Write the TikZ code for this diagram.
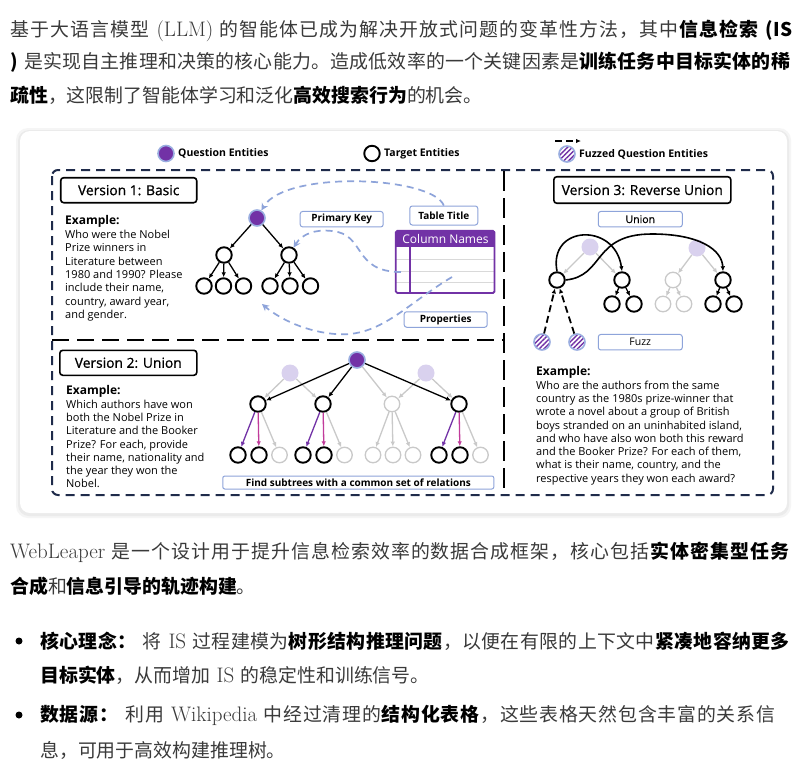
\documentclass[tikz,border=0pt]{standalone}
\usepackage{fontspec}
\newfontfamily\cjk[Scale=0.9]{Noto Sans CJK SC}
\newfontfamily\dsans{Open Sans}
\newfontfamily\dsemi[FakeBold=0.8]{Open Sans}
\usetikzlibrary{arrows.meta,patterns.meta}
\definecolor{framec}{HTML}{1F2B4A}
\definecolor{qpurple}{HTML}{7232A6}
\definecolor{ring}{HTML}{9AAEE0}
\definecolor{linkc}{HTML}{8EA4DA}
\definecolor{ghost}{HTML}{D9D1EE}
\definecolor{rose}{HTML}{C13B9B}
\definecolor{pale}{HTML}{C9C9C9}
\definecolor{bodyink}{HTML}{3A3A3A}
\def\spreadend{\spreadend}
\def\spreadchars#1{\spreadaux#1\spreadend}
\def\spreadaux#1{\ifx#1\spreadend\else#1\hskip0pt plus 1fil\expandafter\spreadaux\fi}
\newcommand{\zhr}[1]{{\cjk #1}}
\newcommand{\zhb}[1]{{\cjk\bfseries\color{black}#1}}
\newcommand{\zhj}[1]{{\cjk\spreadchars{#1}}}
\newcommand{\zhbj}[1]{{\cjk\bfseries\color{black}\spreadchars{#1}}}
\tikzset{
  para/.style={anchor=west,inner sep=0pt,text=bodyink,font=\fontsize{21}{25}\selectfont},
  dot/.style={circle,fill=black,minimum size=7pt,inner sep=0pt},
  ent/.style={circle,draw=black,line width=1.9pt,fill=white,minimum size=15.5pt,inner sep=0pt},
  gent/.style={ent,draw=pale,line width=1.3pt},
  qent/.style={circle,fill=qpurple,draw=ring,line width=1.6pt,minimum size=16pt,inner sep=0pt},
  fent/.style={circle,fill=ghost,minimum size=17pt,inner sep=0pt},
  zent/.style={circle,draw=ring,line width=1.6pt,minimum size=16pt,inner sep=0pt,
    preaction={fill=white},pattern={Lines[angle=45,distance=3.4pt,line width=1.4pt]},pattern color=qpurple},
  arr/.style={-{Latex[length=5pt,width=4.5pt]},line width=1.3pt},
  garr/.style={arr,draw=pale},
  link/.style={draw=linkc,line width=1.7pt,dash pattern=on 7pt off 5pt,-{Stealth[length=7pt,width=7pt]}},
  vbox/.style={draw=black,line width=1.6pt,rounded corners=3pt,fill=white,inner sep=0pt,
    minimum height=25pt,font=\dsemi\fontsize{13.8}{16}\selectfont},
  tag/.style={draw=linkc,line width=1pt,rounded corners=2.5pt,fill=white,inner sep=0pt,
    minimum height=15.5pt,font=\dsans\bfseries\fontsize{10}{12}\selectfont},
  example/.style={anchor=north west,align=left,inner sep=0pt,font=\dsans\fontsize{11}{13.3}\selectfont},
  legend/.style={anchor=west,inner sep=0pt,font=\dsans\bfseries\fontsize{10.5}{13}\selectfont}
}
\begin{document}
\begin{tikzpicture}[x=1pt,y=-1pt]
\path[use as bounding box,fill=white] (0,0) rectangle (803,763);

\node[para] (intro1) at (10,31) {\makebox[782pt][s]{\zhj{基于大语言模型} (LLM) \zhj{的智能体已成为解决开放式问题的变革性方法，其中}\zhbj{信息检索} \zhb{(IS}}};
\node[para] (intro2) at (10,62) {\makebox[780pt][s]{\zhb{)} \zhj{是实现自主推理和决策的核心能力。造成低效率的一个关键因素是}\zhbj{训练任务中目标实体的稀}\unskip}};
\node[para] (intro3) at (10,95) {\zhb{疏性}\zhr{，这限制了智能体学习和泛化}\zhb{高效搜索行为}\zhr{的机会。}};

\fill[black!4,rounded corners=12pt] (16,128) rectangle (791,518);
\fill[black!8,rounded corners=11pt] (18,130) rectangle (789,516);
\fill[white,rounded corners=10pt] (20,131) rectangle (787,513);

\node[qent] (lq) at (166,153.5) {};
\node[legend] (lqt) at (178,153.5) {Question Entities};
\node[ent] (lt) at (372,153.5) {};
\node[legend] (ltt) at (384,153.5) {Target Entities};
\node[zent] (lf) at (567,154) {};
\node[legend] (lft) at (579,154) {Fuzzed Question Entities};
\coordinate (la) at (555,141);
\coordinate (lb) at (581,141);
\draw[arr,line width=1.6pt,dash pattern=on 7pt off 4pt] (la) -- (lb);

\draw[framec,line width=2pt,dash pattern=on 9pt off 6pt,rounded corners=6pt] (52,170) rectangle (773,495);
\draw[line width=2.6pt,dash pattern=on 17pt off 8pt] (52,340) -- (503,340);
\draw[line width=2.8pt,dash pattern=on 20pt off 7pt] (504,171) -- (504,495);

\node[vbox,minimum width=136pt] (v1) at (128.7,190.2) {Version 1: Basic};
\node[example] (ex1) at (65,215.5) {{\bfseries\fontsize{12}{15}\selectfont Example:}\\[0.5pt]
  Who were the Nobel\\Prize winners in\\Literature between\\1980 and 1990? Please\\include their name,\\country, award year,\\and gender.};

\node[qent] (r1) at (257,218) {};
\node[ent] (a1) at (224,255) {};
\node[ent] (b1) at (289,255) {};
\foreach \x [count=\i] in {204,223.5,243.5} \node[ent] (a1\i) at (\x,286) {};
\foreach \x [count=\i] in {270,290,310.5} \node[ent] (b1\i) at (\x,286) {};
\draw[arr] (r1) -- (a1);
\draw[arr] (r1) -- (b1);
\foreach \i in {1,2,3} {
  \draw[arr] (a1) -- (a1\i);
  \draw[arr] (b1) -- (b1\i);
}

\node[tag,minimum width=83pt] (pkey) at (341.7,219.2) {Primary Key};
\node[tag,minimum width=68pt,minimum height=19pt] (ttitle) at (443.8,215.5) {Table Title};
\node[tag,minimum width=83pt] (props) at (445.7,319.5) {Properties};
\node[fill=qpurple,text=white,inner sep=0pt,minimum width=99pt,minimum height=16pt,
  font=\dsans\fontsize{12}{14}\selectfont] (cols) at (445.5,239) {Column Names};
\coordinate (tcorner) at (494.5,293);
\fill[white] (cols.south west) rectangle (tcorner);
\foreach \y in {259,271,282} \draw[black!15,line width=0.8pt] (396,\y) -- (494.5,\y);
\draw[qpurple,line width=1.5pt] (410,247) -- (410,293);
\draw[qpurple,line width=1.8pt,rounded corners=1.5pt] (cols.north west) rectangle (tcorner);

\coordinate (tin) at (401,272);
\coordinate (tout) at (452,277);
\coordinate (ptip) at (262,304);
\draw[link] (ttitle.north) .. controls (432,176) and (285,170) .. (r1);
\draw[link] (tin) .. controls (352,272) and (366,234) .. (332,231) .. controls (315,229) and (302,234) .. (b1);
\draw[link] (tout) .. controls (405,305) and (380,338) .. (335,334) .. controls (300,331) and (275,315) .. (ptip);

\node[vbox,minimum width=137pt] (v2) at (128.3,362.8) {Version 2: Union};
\node[example] (ex2) at (66,385) {{\bfseries\fontsize{12}{15}\selectfont Example:}\\[0.5pt]
  Which authors have won\\both the Nobel Prize in\\Literature and the Booker\\Prize? For each, provide\\their name, nationality and\\the year they won the\\Nobel.};

\node[fent] (fl) at (290,373) {};
\node[fent] (fr) at (426,373) {};
\node[qent] (r2) at (357,360) {};
\node[ent] (c1) at (258,404) {};
\node[ent] (c2) at (323,404) {};
\node[gent] (c3) at (392,404) {};
\node[ent] (c4) at (459,404) {};
\draw[garr] (fl) -- (c1);
\draw[garr] (fl) -- (c2);
\draw[garr] (fr) -- (c3);
\draw[garr] (fr) -- (c4);
\draw[garr] (r2) -- (c3);
\draw[arr] (r2) -- (c1);
\draw[arr] (r2) -- (c2);
\draw[arr] (r2) -- (c4);
\foreach \c/\x in {1/258,2/323,4/459} {
  \node[ent] (c\c1) at (\x-20,455) {};
  \node[ent] (c\c2) at (\x+1,455) {};
  \node[gent] (c\c3) at (\x+21.5,455) {};
  \draw[arr,qpurple] (c\c) -- (c\c1);
  \draw[arr,rose] (c\c) -- (c\c2);
  \draw[garr] (c\c) -- (c\c3);
}
\foreach \x [count=\i] in {373,393,413} {
  \node[gent] (c3\i) at (\x,455) {};
  \draw[garr] (c3) -- (c3\i);
}
\node[tag,minimum width=271pt,minimum height=13pt,rounded corners=2pt] (subtr) at (358.3,482.5) {Find subtrees with a common set of relations};

\node[vbox,minimum width=177pt,minimum height=26.5pt] (v3) at (642.3,190) {Version 3: Reverse Union};
\node[tag,minimum width=84pt,font=\dsemi\fontsize{10.5}{12}\selectfont] (union) at (640.3,219.2) {Union};
\node[tag,minimum width=84pt,font=\dsans\fontsize{10.5}{12}\selectfont] (fuzz) at (640.3,342.2) {Fuzz};

\node[fent] (fa) at (590,247) {};
\node[fent] (fb) at (697,248) {};
\node[ent] (d1) at (557,280) {};
\node[ent] (d2) at (622,280) {};
\node[gent] (d3) at (673,280) {};
\node[ent] (d4) at (723,280) {};
\node[ent] (d21) at (612,304) {};
\node[ent] (d22) at (634,304) {};
\node[gent] (d31) at (663,304) {};
\node[gent] (d32) at (684,304) {};
\node[ent] (d41) at (713,304) {};
\node[ent] (d42) at (734,304) {};
\draw[garr] (fa) -- (d1);
\draw[garr] (fa) -- (d2);
\draw[garr] (fb) -- (d3);
\draw[garr] (fb) -- (d4);
\foreach \i in {1,2} {
  \draw[arr] (d2) -- (d2\i);
  \draw[garr] (d3) -- (d3\i);
  \draw[arr] (d4) -- (d4\i);
}
\draw[arr,line width=1.6pt] (d1.north) .. controls (548,225) and (615,222) .. (d2.north);
\draw[arr,line width=1.6pt] (d1.east) .. controls (605,276) and (592,234) .. (652,234) .. controls (700,234) and (722,250) .. (d4.north);
\node[zent] (z1) at (542,342) {};
\node[zent] (z2) at (577,342) {};
\draw[arr,line width=1.8pt,dash pattern=on 7pt off 4pt] (z1) -- (d1);
\draw[arr,line width=1.8pt,dash pattern=on 7pt off 4pt] (z2) -- (d1);
\node[example] (ex3) at (536,366) {{\bfseries\fontsize{12}{15}\selectfont Example:}\\[0.5pt]
  Who are the authors from the same\\country as the 1980s prize-winner that\\wrote a novel about a group of British\\boys stranded on an uninhabited island,\\and who have also won both this reward\\and the Booker Prize? For each of them,\\what is their name, country, and the\\respective years they won each award?};

\node[para] (sum1) at (10,552) {\makebox[780pt][s]{WebLeaper \zhj{是一个设计用于提升信息检索效率的数据合成框架，核心包括}\zhbj{实体密集型任务}\unskip}};
\node[para] (sum2) at (10,586) {\zhb{合成}\zhr{和}\zhb{信息引导的轨迹构建}\zhr{。}};
\node[dot] (bul1) at (19,641) {};
\node[para] (pt1a) at (40,641) {\makebox[750pt][s]{\zhbj{核心理念：}\ \zhj{将} IS \zhj{过程建模为}\zhbj{树形结构推理问题}\zhj{，以便在有限的上下文中}\zhbj{紧凑地容纳更多}\unskip}};
\node[para] (pt1b) at (40,675) {\zhb{目标实体}\zhr{，从而增加} IS \zhr{的稳定性和训练信号。}};
\node[dot] (bul2) at (19,715) {};
\node[para] (pt2a) at (40,715) {\makebox[735pt][s]{\zhbj{数据源：}\ \zhj{利用} Wikipedia \zhj{中经过清理的}\zhbj{结构化表格}\zhj{，这些表格天然包含丰富的关系信}\unskip}};
\node[para] (pt2b) at (40,750) {\zhr{息，可用于高效构建推理树。}};
\end{tikzpicture}
\end{document}
